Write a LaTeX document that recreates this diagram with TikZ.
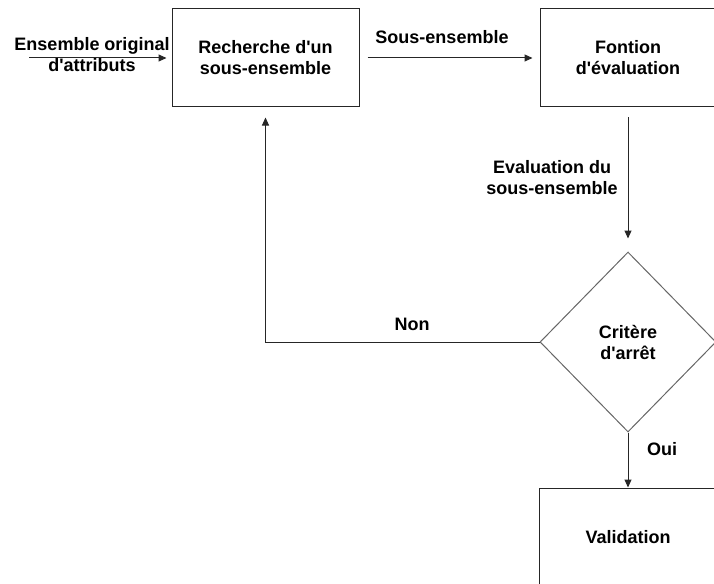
\documentclass[tikz,border=0pt]{standalone}
\usepackage{fontspec}
\setmainfont{Liberation Sans}[Ligatures=TeXOff]
\usetikzlibrary{shapes.geometric,arrows.meta}
\begin{document}
\begin{tikzpicture}[x=1pt,y=-1pt,
    font=\fontsize{18}{21}\selectfont\bfseries,
    boite/.style={draw=black!85, line width=1pt, minimum width=187pt,
        minimum height=98pt, inner sep=0pt, align=center},
    losange/.style={diamond, draw=black!60, line width=1pt, minimum width=176pt,
        minimum height=180pt, inner sep=0pt, align=center},
    fleche/.style={draw=black!85, line width=1pt, -{Triangle[length=8pt,width=7pt]}},
    etiq/.style={inner sep=0pt, align=center}]
    % El marco recorta las cajas de la derecha, como en el original.
    \useasboundingbox (0,0) rectangle (714,583);
    \clip (0,0) rectangle (714,583);
    \node[boite] (recherche) at (265.5,58) {Recherche d'un\\sous-ensemble};
    \node[boite, minimum width=176pt] (fonction) at (628,58) {Fontion\\d'évaluation};
    \node[losange] (critere) at (628,342) {Critère\\d'arrêt};
    \node[boite, minimum width=178pt] (validation) at (628,537) {Validation};
    \coordinate (entree) at (29,58);
    % Flechas entre las etapas.
    \draw[fleche, shorten >=5pt] (entree) -- (recherche);
    \draw[fleche, shorten <=8pt, shorten >=7pt] (recherche) -- (fonction);
    \draw[fleche, shorten <=10pt, shorten >=13pt] (fonction) -- (critere);
    \draw[fleche] (critere) -- (validation);
    \draw[fleche, shorten >=10pt] (critere.west) -| (recherche.south);
    \node[etiq] (original) at (92,55) {Ensemble original\\d'attributs};
    \node[etiq] (sousens) at (442,37) {Sous-ensemble};
    \node[etiq] (evalsous) at (552,178) {Evaluation du\\sous-ensemble};
    \node[etiq] (non) at (412,324) {Non};
    \node[etiq] (oui) at (662,449) {Oui};
\end{tikzpicture}
\end{document}
